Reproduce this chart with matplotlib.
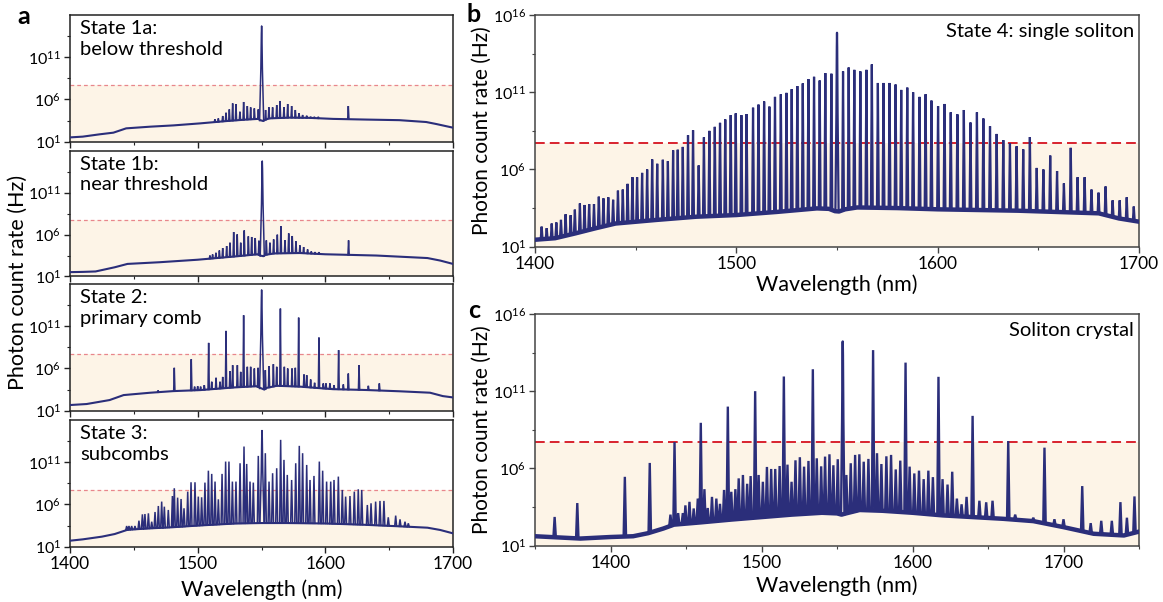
import numpy as np
import matplotlib
matplotlib.use("Agg")
import matplotlib.pyplot as plt
from matplotlib.ticker import FixedLocator, NullFormatter, FuncFormatter

# ---------------- data: wavelength (nm), log10(photon count rate / Hz) ----------------
threshold_log = 7.7

# State 1a: below threshold
a1_base_wl = [1400, 1410, 1423, 1434, 1444, 1463, 1481, 1502, 1523, 1538, 1547.5, 1549, 1551.4, 1553, 1556, 1572, 1588, 1606, 1632, 1658, 1679, 1687, 1700]
a1_base_log = [1.51, 1.6, 1.87, 2.07, 2.58, 2.78, 2.93, 3.17, 3.45, 3.62, 3.7, 3.55, 3.45, 3.6, 3.76, 3.85, 3.82, 3.7, 3.62, 3.55, 3.33, 3.09, 2.66]
a1_peak_wl = [1513.5, 1516.2, 1519.6, 1522.2, 1524.8, 1527.4, 1530.0, 1533.1, 1536.0, 1538.9, 1541.5, 1544.4, 1547.5,
              1553.2, 1555.8, 1558.7, 1561.9, 1564.5, 1567.6, 1570.5, 1573.6, 1576.5, 1579.4, 1582.2, 1585.4, 1588.5,
              1591.4, 1594.5, 1618.0]
a1_peak_log = [3.65, 3.76, 4.04, 4.43, 4.83, 5.54, 5.46, 4.55, 5.7, 5.22, 5.07, 4.95, 4.83,
               4.75, 5.07, 5.07, 5.34, 5.82, 5.07, 5.46, 5.22, 4.75, 4.36, 4.16, 4.08, 3.96,
               3.95, 3.95, 5.22]
a1_pump = (1550.1, 14.7)

# State 1b: near threshold
a2_base_wl = [1400, 1410, 1420, 1435, 1445, 1470, 1500, 1530, 1547, 1549, 1551.5, 1553, 1560, 1580, 1600, 1640, 1680, 1690, 1700]
a2_base_log = [1.52, 1.55, 1.6, 2.1, 2.5, 2.7, 3.0, 3.4, 3.65, 3.5, 3.42, 3.58, 3.75, 3.8, 3.65, 3.5, 3.2, 2.9, 2.5]
a2_peak_wl = [1509.6, 1511.7, 1514.3, 1517.0, 1519.6, 1522.7, 1525.3, 1528.2, 1531.0, 1533.7, 1536.5, 1539.7, 1542.3,
              1545.1, 1548.0, 1553.8, 1556.6, 1559.5, 1562.4, 1565.2, 1568.4, 1571.3, 1574.1, 1577.0, 1580.1,
              1583.0, 1586.1, 1589.0, 1591.9, 1595.0, 1618.2]
a2_peak_log = [3.5, 3.63, 3.83, 4.1, 4.39, 4.63, 5.03, 6.3, 6.03, 5.03, 6.5, 5.79, 5.71,
               5.59, 5.27, 5.31, 5.03, 5.43, 5.99, 6.99, 5.31, 6.15, 5.83, 5.19, 4.71,
               4.51, 4.23, 3.99, 3.91, 3.9, 5.31]
a2_pump = (1550.6, 14.77)

# State 2: primary comb
a3_base_wl = [1400, 1413, 1431, 1442, 1463, 1481, 1502, 1528, 1546, 1549, 1552.2, 1554, 1562, 1580, 1606, 1632, 1658, 1682, 1692, 1700]
a3_base_log = [1.67, 1.79, 2.26, 2.85, 3.13, 3.32, 3.44, 3.75, 3.9, 3.7, 3.5, 3.7, 3.95, 3.85, 3.55, 3.45, 3.3, 3.13, 2.73, 2.57]
a3_peak_wl = [1469.0, 1481.7, 1495.0, 1497.6, 1500.0, 1502.3, 1505.2, 1508.6, 1511.0, 1514.4, 1517.5, 1519.6,
              1522.2, 1525.3, 1527.4, 1531.1, 1533.7, 1536.0, 1538.9, 1541.5, 1544.4, 1547.3, 1553.0, 1555.9,
              1559.3, 1561.9, 1564.8, 1567.9, 1570.5, 1573.9, 1576.5, 1579.1, 1583.3, 1585.4, 1588.5, 1591.6,
              1595.0, 1598.4, 1600.5, 1603.6, 1606.8, 1610.4, 1614.1, 1618.0, 1626.4, 1633.7, 1642.3]
a3_peak_log = [3.4, 6.08, 7.1, 3.85, 3.9, 3.85, 4.03, 9.03, 4.43, 4.9, 4.43, 5.0,
               10.45, 5.69, 6.39, 6.39, 5.6, 12.3, 6.2, 6.2, 6.0, 6.08, 5.8, 6.28,
               6.51, 6.2, 13.09, 6.2, 6.0, 6.0, 6.08, 12.02, 5.29, 5.21, 4.7, 4.31,
               9.66, 4.23, 4.23, 4.23, 4.03, 8.17, 4.11, 5.4, 6.39, 3.95, 4.23]
a3_pump = (1550.1, 15.3)

# State 3: subcombs
a4_base_wl = [1400, 1410, 1425, 1435, 1445, 1460, 1480, 1500, 1530, 1550, 1570, 1600, 1630, 1660, 1680, 1690, 1700]
a4_base_log = [1.71, 1.87, 2.19, 2.5, 3.0, 3.15, 3.3, 3.5, 3.75, 3.8, 3.8, 3.75, 3.6, 3.4, 3.25, 2.98, 2.58]
a4_peak_wl = [1444.4, 1446.2, 1448.3, 1450.9, 1454.0, 1456.7, 1458.7, 1461.4, 1464.0, 1466.6, 1469.2, 1471.8,
              1473.9, 1477.0, 1480.2, 1481.7, 1484.3, 1487.0, 1489.3, 1492.2, 1494.8, 1497.9, 1500.5, 1503.1,
              1505.7, 1508.4, 1511.0, 1513.6, 1516.2, 1519.1, 1521.9, 1524.5, 1527.2, 1530.0, 1533.2, 1536.3,
              1538.4, 1541.0, 1543.6, 1547.5, 1553.0, 1555.9, 1558.7, 1561.9, 1565.0, 1567.6, 1570.2, 1573.6,
              1576.8, 1579.6, 1582.2, 1585.4, 1588.0, 1591.1, 1595.3, 1597.9, 1601.0, 1604.2, 1606.8, 1610.2,
              1613.3, 1615.9, 1619.3, 1622.7, 1625.8, 1628.5, 1632.9, 1635.8, 1639.4, 1642.8, 1645.9, 1649.3,
              1655.1, 1658.5, 1662.4, 1665.0]
a4_peak_log = [3.45, 3.45, 3.45, 3.45, 4.08, 4.83, 4.87, 4.95, 3.96, 5.11, 5.82, 6.34,
               5.74, 5.35, 7.0, 7.92, 6.81, 6.65, 5.55, 7.52, 8.63, 8.63, 6.93, 6.85,
               8.59, 10.0, 9.62, 8.71, 6.61, 9.62, 11.08, 11.08, 8.71, 8.71, 10.88, 12.86,
               10.8, 8.71, 8.59, 11.75, 12.07, 8.71, 9.7, 10.29, 13.65, 11.28, 9.5, 8.9,
               10.88, 12.94, 12.07, 10.68, 8.9, 9.38, 11.08, 10.0, 8.71, 8.71, 8.9, 9.3,
               7.72, 6.93, 7.0, 7.52, 7.8, 7.72, 5.94, 6.14, 6.34, 6.42, 6.42, 4.48,
               4.68, 4.24, 3.96, 3.77]
a4_pump = (1550.4, 14.75)

# State 4: single soliton
b_base_wl = [1400, 1410, 1420, 1430, 1440, 1460, 1480, 1500, 1520, 1540, 1546, 1549, 1551, 1554, 1560, 1580, 1600, 1640, 1680, 1690, 1700]
b_base_log = [1.45, 1.55, 1.86, 2.19, 2.5, 2.73, 2.94, 3.05, 3.25, 3.48, 3.45, 3.3, 3.28, 3.42, 3.54, 3.5, 3.42, 3.33, 3.16, 2.83, 2.62]
b_peak_wl = [1403.3, 1405.8, 1408.3, 1410.6, 1412.9, 1415.2, 1417.7, 1419.8, 1422.3, 1424.6, 1426.9, 1429.3,
             1431.7, 1434.0, 1436.4, 1438.8, 1441.2, 1443.6, 1446.0, 1448.4, 1450.7, 1453.2, 1455.7, 1458.2,
             1460.7, 1463.5, 1466.0, 1468.6, 1470.9, 1473.4, 1476.0, 1478.5, 1481.3, 1483.9, 1486.6, 1489.3,
             1491.9, 1494.5, 1497.2, 1499.7, 1502.5, 1505.1, 1508.3, 1511.0, 1513.8, 1516.4, 1519.2, 1522.1,
             1524.9, 1527.5, 1530.3, 1533.0, 1535.8, 1538.6, 1541.4, 1544.2, 1547.2, 1553.0, 1555.8, 1558.6,
             1561.6, 1564.6, 1567.3, 1570.3, 1573.1, 1576.1, 1579.1, 1581.9, 1584.9, 1587.8, 1591.0, 1594.0,
             1596.9, 1600.2, 1603.4, 1606.5, 1609.8, 1613.0, 1616.3, 1619.5, 1622.7, 1626.0, 1629.3, 1632.6,
             1635.9, 1639.2, 1642.5, 1645.8, 1649.2, 1652.5, 1655.9, 1659.3, 1662.7, 1666.1, 1669.5, 1673.0,
             1676.4, 1679.9, 1683.4, 1686.9, 1690.4, 1693.9, 1697.4]
b_peak_log = [2.3, 2.2, 2.5, 2.57, 2.74, 3.1, 3.04, 3.4, 3.8, 3.7, 3.76, 3.76,
              4.24, 4.13, 4.2, 4.04, 4.63, 4.7, 5.07, 5.5, 5.5, 5.78, 6.0, 6.65,
              6.37, 6.63, 6.54, 7.24, 7.28, 7.46, 8.22, 8.54, 6.26, 8.08, 8.5, 8.76,
              9.02, 9.24, 9.52, 9.63, 9.52, 9.59, 10.0, 10.2, 10.4, 10.07, 10.7, 10.87,
              10.96, 11.2, 11.4, 11.57, 11.85, 12.0, 11.76, 12.24, 12.2, 12.35, 12.6, 12.45,
              12.35, 12.45, 12.8, 11.6, 11.6, 11.6, 11.5, 11.15, 11.3, 11.0, 10.7, 10.87,
              10.46, 10.1, 10.24, 9.7, 9.57, 9.85, 9.04, 9.7, 9.3, 8.8, 8.3, 7.9,
              7.7, 7.5, 7.3, 8.1, 6.1, 6.0, 6.9, 5.9, 5.1, 7.4, 5.5, 5.5,
              4.7, 4.5, 4.9, 4.0, 4.0, 4.2, 3.6]
b_pump = (1550.0, 14.85)

# Soliton crystal
c_base_wl = [1350, 1380, 1400, 1415, 1425, 1435, 1442, 1460, 1480, 1500, 1520, 1540, 1550, 1553, 1556, 1565, 1580, 1600, 1620, 1640, 1660, 1680, 1700, 1720, 1740, 1750]
c_base_log = [1.6, 1.45, 1.55, 1.6, 1.8, 2.1, 2.35, 2.5, 2.68, 2.84, 3.0, 3.12, 3.08, 3.0, 3.08, 3.3, 3.25, 3.12, 2.95, 2.84, 2.73, 2.58, 2.19, 1.76, 1.65, 1.9]
c_peak_wl = [1363.0, 1378.0, 1409.5, 1426.0, 1439.7, 1442.4, 1444.8, 1447.9, 1449.6, 1452.3, 1455.1, 1457.8,
             1459.8, 1462.2, 1464.4, 1467.2, 1470.1, 1472.5, 1475.2, 1477.7, 1480.0, 1482.7, 1484.9, 1487.7,
             1490.5, 1492.8, 1495.8, 1498.1, 1500.9, 1503.6, 1506.4, 1509.1, 1512.0, 1514.8, 1517.2, 1519.9,
             1522.5, 1525.4, 1528.2, 1531.1, 1534.0, 1536.6, 1539.5, 1542.1, 1545.0, 1547.6, 1550.5, 1556.2,
             1559.1, 1562.0, 1564.8, 1567.7, 1570.8, 1573.9, 1576.5, 1579.4, 1582.7, 1585.8, 1588.9, 1591.9,
             1595.4, 1598.1, 1601.2, 1604.3, 1607.4, 1610.5, 1613.5, 1617.2, 1619.9, 1623.2, 1626.3, 1629.4,
             1632.5, 1635.8, 1639.8, 1644.3, 1648.8, 1653.0, 1663.4, 1668.0, 1680.0, 1687.4, 1694.0, 1700.0,
             1712.4, 1718.0, 1725.0, 1732.0, 1737.7, 1742.0, 1747.0]
c_peak_log = [2.85, 3.75, 5.45, 6.35, 3.0, 7.7, 3.1, 3.1, 3.6, 3.83, 3.4, 4.04,
              8.95, 4.65, 3.43, 4.15, 4.04, 3.7, 4.6, 10.0, 4.48, 4.65, 5.35, 5.57,
              5.0, 5.5, 11.0, 5.57, 5.13, 6.09, 5.96, 5.96, 6.15, 11.95, 6.24, 5.13,
              6.52, 6.72, 6.11, 6.48, 12.42, 6.65, 6.13, 6.76, 6.91, 6.2, 6.59, 5.57,
              6.33, 6.87, 6.91, 6.43, 6.61, 13.66, 6.98, 6.28, 6.78, 6.87, 5.93, 6.5,
              12.85, 6.11, 5.67, 5.85, 5.3, 5.85, 5.43, 11.93, 5.3, 4.95, 5.78, 4.04,
              3.67, 4.15, 9.4, 3.9, 3.8, 3.9, 7.77, 3.0, 2.8, 7.34, 2.7, 2.7,
              4.85, 2.45, 2.6, 2.6, 3.81, 2.8, 4.18]
c_pump = (1553.8, 14.22)

a_labels = ["State 1a:\nbelow threshold", "State 1b:\nnear threshold",
            "State 2:\nprimary comb", "State 3:\nsubcombs"]
b_label = "State 4: single soliton"
c_label = "Soliton crystal"
xlabel = "Wavelength (nm)"
ylabel = "Photon count rate (Hz)"

# ---------------- style ----------------
plt.rcParams['font.family'] = ['Lato', 'DejaVu Sans']
plt.rcParams['mathtext.fontset'] = 'custom'
plt.rcParams['mathtext.rm'] = 'Lato'
plt.rcParams['mathtext.it'] = 'Lato:italic'
plt.rcParams['mathtext.bf'] = 'Lato:bold'

LINE = '#2B2E7A'
BEIGE = '#FDF4E7'
W, H = 1163, 602
fig = plt.figure(figsize=(W / 100, H / 100), dpi=100)


def rect(l, t, r, b):
    return [l / W, 1 - b / H, (r - l) / W, (b - t) / H]


def fmt(v, pos):
    return r'$10^{%d}$' % int(round(np.log10(v)))


def style(ax, xlim, xmaj, xmin, ymaj, spine_c, dash_c, dash_lw, dash_pat, labels_x=True):
    ax.set_yscale('log')
    ax.set_ylim(10, 1e16)
    ax.set_xlim(*xlim)
    ax.xaxis.set_major_locator(FixedLocator(xmaj))
    ax.xaxis.set_minor_locator(FixedLocator(xmin))
    ax.yaxis.set_major_locator(FixedLocator([10.0 ** v for v in ymaj]))
    ax.yaxis.set_minor_locator(FixedLocator([10 ** 3.5, 10 ** 8.5, 10 ** 13.5]))
    ax.yaxis.set_major_formatter(FuncFormatter(fmt))
    ax.yaxis.set_minor_formatter(NullFormatter())
    ax.tick_params(which='major', direction='out', length=4.5, width=1.0,
                   color=spine_c, pad=2.5)
    ax.tick_params(axis='x', which='major', labelsize=12.5)
    ax.tick_params(axis='y', which='major', labelsize=11.5, pad=2.0)
    ax.tick_params(which='minor', direction='out', length=2.5, width=0.8, color=spine_c)
    if not labels_x:
        ax.tick_params(axis='x', labelbottom=False)
    for s in ax.spines.values():
        s.set_color(spine_c)
        s.set_linewidth(1.1)
    ax.axhspan(10, 10 ** threshold_log, color=BEIGE, zorder=0, lw=0)
    ax.axhline(10 ** threshold_log, color=dash_c, lw=dash_lw, ls=(0, dash_pat), zorder=2)


def draw(ax, base_wl, base_log, pk_wl, pk_log, pump, hw, lw_base, lw_pk, pump_scale):
    bw = np.asarray(base_wl, float)
    bl = np.asarray(base_log, float)
    ax.plot(bw, 10 ** bl, color=LINE, lw=lw_base, solid_joinstyle='round', zorder=3)
    xs, ys = [], []
    for w, t in zip(pk_wl, pk_log):
        f = np.interp(w, bw, bl)
        xs += [w - hw, w, w + hw, np.nan]
        ys += [10 ** f, 10 ** t, 10 ** f, np.nan]
    ax.plot(xs, ys, color=LINE, lw=lw_pk, zorder=3, solid_joinstyle='miter')
    pw, pt = pump
    f = np.interp(pw, bw, bl)
    dx = np.array([-1.6, -0.6, -0.2, 0, 0.2, 0.6, 1.6]) * pump_scale
    fr = np.array([0, 0.55, 0.92, 1, 0.92, 0.55, 0])
    ax.plot(pw + dx, 10 ** (f + fr * (pt - f)), color=LINE, lw=lw_pk, zorder=3)


# panel a
a_rects = [rect(70, 15, 453, 141.7), rect(70, 150.7, 453, 276.5),
           rect(70, 284, 453, 410.7), rect(70, 420, 453, 546.7)]
a_data = [(a1_base_wl, a1_base_log, a1_peak_wl, a1_peak_log, a1_pump),
          (a2_base_wl, a2_base_log, a2_peak_wl, a2_peak_log, a2_pump),
          (a3_base_wl, a3_base_log, a3_peak_wl, a3_peak_log, a3_pump),
          (a4_base_wl, a4_base_log, a4_peak_wl, a4_peak_log, a4_pump)]
for i, (r, d, lab) in enumerate(zip(a_rects, a_data, a_labels)):
    ax = fig.add_axes(r)
    style(ax, (1400, 1700), [1400, 1500, 1600, 1700], [1450, 1550, 1650], [1, 6, 11],
          '#222222', '#E8868C', 0.9, (3.0, 2.4), labels_x=(i == 3))
    hw = 0.75 if i == 3 else 0.5
    draw(ax, *d, hw=hw, lw_base=1.5, lw_pk=1.1, pump_scale=1.0)
    ax.text(0.026, 0.96, lab, transform=ax.transAxes, ha='left', va='top',
            fontsize=14.5, linespacing=1.25, color='black')

fig.text(17.5 / W, 1 - 282 / H, ylabel, rotation=90, ha='center', va='center', fontsize=15.5)
fig.text(261.5 / W, 1 - 590 / H, xlabel, ha='center', va='center', fontsize=15.5)

# panel b
axb = fig.add_axes(rect(535, 15, 1139, 246.7))
style(axb, (1400, 1700), [1400, 1500, 1600, 1700], [1450, 1550, 1650], [1, 6, 11, 16],
      '#444444', '#D8232E', 1.4, (5.0, 2.6))
draw(axb, b_base_wl, b_base_log, b_peak_wl, b_peak_log, b_pump, hw=0.45, lw_base=3.2,
     lw_pk=1.6, pump_scale=0.5)
axb.text(0.992, 0.965, b_label, transform=axb.transAxes, ha='right', va='top', fontsize=14.5)
fig.text(482 / W, 1 - 131 / H, ylabel, rotation=90, ha='center', va='center', fontsize=15)
fig.text(837 / W, 1 - 285 / H, xlabel, ha='center', va='center', fontsize=15.5)

# panel c
axc = fig.add_axes(rect(535, 314, 1139, 545.5))
style(axc, (1350, 1750), [1400, 1500, 1600, 1700], [1350, 1450, 1550, 1650, 1750], [1, 6, 11, 16],
      '#444444', '#D8232E', 1.4, (5.0, 2.6))
draw(axc, c_base_wl, c_base_log, c_peak_wl, c_peak_log, c_pump, hw=0.8, lw_base=3.2,
     lw_pk=1.7, pump_scale=0.7)
axc.text(0.992, 0.965, c_label, transform=axc.transAxes, ha='right', va='top', fontsize=14.5)
fig.text(482 / W, 1 - 430 / H, ylabel, rotation=90, ha='center', va='center', fontsize=15)
fig.text(837 / W, 1 - 586 / H, xlabel, ha='center', va='center', fontsize=15.5)

# panel letters
fig.text(24 / W, 1 - 16 / H, 'a', fontsize=18, fontweight='bold', ha='center', va='center')
fig.text(474 / W, 1 - 14 / H, 'b', fontsize=18, fontweight='bold', ha='center', va='center')
fig.text(474 / W, 1 - 311 / H, 'c', fontsize=18, fontweight='bold', ha='center', va='center')

fig.savefig('out.png', dpi=100)
